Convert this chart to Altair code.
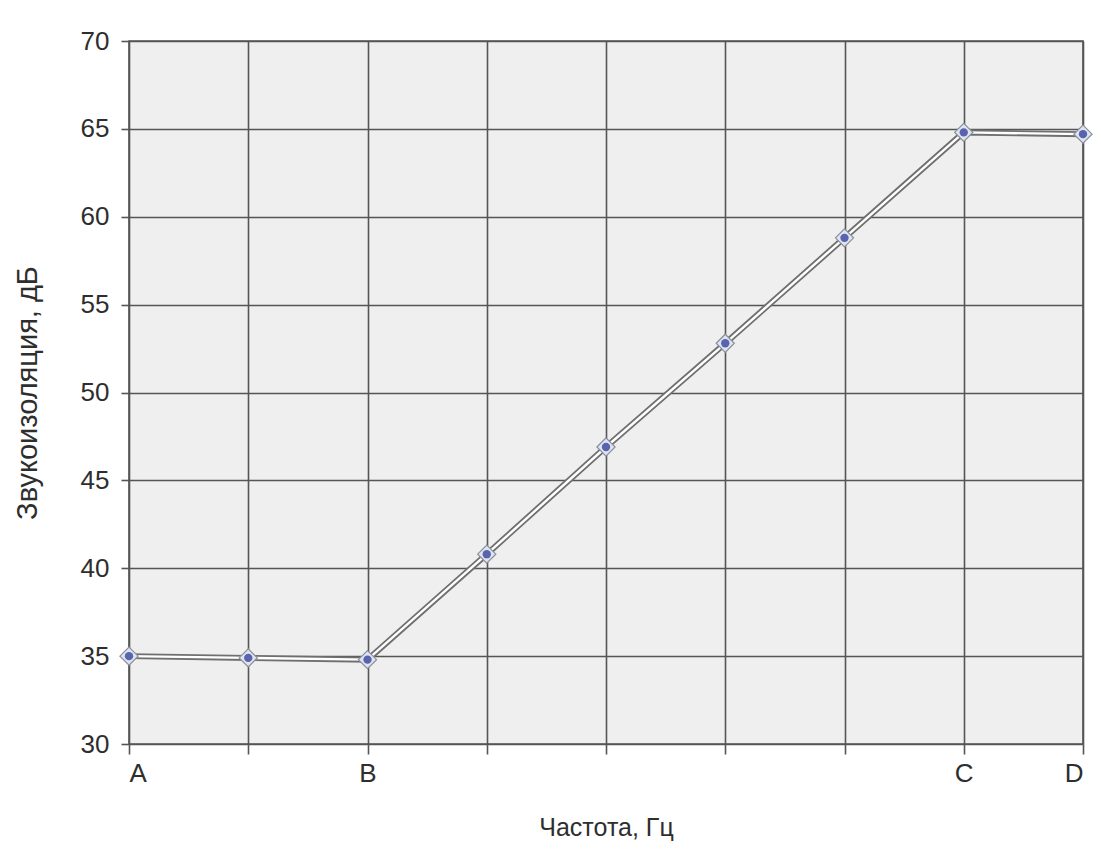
import json
import altair as alt
import pandas as pd

# Data
x_pos = [0, 1, 2, 3, 4, 5, 6, 7, 8]
x_labels = ["A", "", "B", "", "", "", "", "C", "D"]
y_vals = [35.0, 34.9, 34.8, 40.8, 46.9, 52.8, 58.8, 64.8, 64.7]
y_ticks = [30, 35, 40, 45, 50, 55, 60, 65, 70]

x_title = "Частота, Гц"
y_title = "Звукоизоляция, дБ"

df = pd.DataFrame({"x": x_pos, "y": y_vals})

label_map = json.dumps({str(p): l for p, l in zip(x_pos, x_labels)}, ensure_ascii=False)
label_expr = f"({label_map})[toString(datum.value)] || ''"

FONT = "Liberation Sans"
GRID = "#555555"
TXT = "#2e2e2e"

x_enc = alt.X(
    "x:Q",
    scale=alt.Scale(domain=[0, 8], nice=False, zero=False),
    axis=alt.Axis(
        values=x_pos,
        labelExpr=label_expr,
        title=x_title,
        grid=True,
        gridColor=GRID,
        gridWidth=1.6,
        gridOpacity=1,
        domain=False,
        ticks=True,
        tickSize=10,
        tickColor=GRID,
        tickWidth=1.6,
        labelFont=FONT,
        labelFontSize=26,
        labelColor=TXT,
        labelPadding=6,
        titleFont=FONT,
        titleFontSize=25,
        titleFontWeight="normal",
        titleColor=TXT,
        titlePadding=29,
    ),
)
y_enc = alt.Y(
    "y:Q",
    scale=alt.Scale(domain=[30, 70], nice=False, zero=False),
    axis=alt.Axis(
        values=y_ticks,
        title=y_title,
        grid=True,
        gridColor=GRID,
        gridWidth=1.6,
        gridOpacity=1,
        domain=False,
        ticks=True,
        tickSize=8,
        tickColor=GRID,
        tickWidth=1.6,
        labelFont=FONT,
        labelFontSize=26,
        labelColor=TXT,
        labelPadding=12,
        titleFont=FONT,
        titleFontSize=29,
        titleFontWeight="normal",
        titleColor=TXT,
        titlePadding=38,
    ),
)

base = alt.Chart(df).encode(x=x_enc, y=y_enc)

outer = base.mark_line(color="#6f6f6f", strokeWidth=6)
inner = base.mark_line(color="#ffffff", strokeWidth=2.4)
marker_outer = base.mark_point(shape="diamond", filled=True, size=330, color="#dde5f0",
                               stroke="#8a8f9a", strokeWidth=1.2, opacity=1)
marker_inner = base.mark_point(shape="circle", filled=True, size=70, color="#5a63ad", opacity=1)

chart = (
    alt.layer(outer, inner, marker_outer, marker_inner)
    .properties(
        width=954,
        height=703,
        autosize="none",
        padding={"left": 121, "top": 33, "right": 10, "bottom": 105},
        background="#ffffff",
    )
    .configure_view(fill="#efefef", stroke=GRID, strokeWidth=1.6)
)

chart.save("out.html", embed_options={"renderer": "svg", "actions": False})
